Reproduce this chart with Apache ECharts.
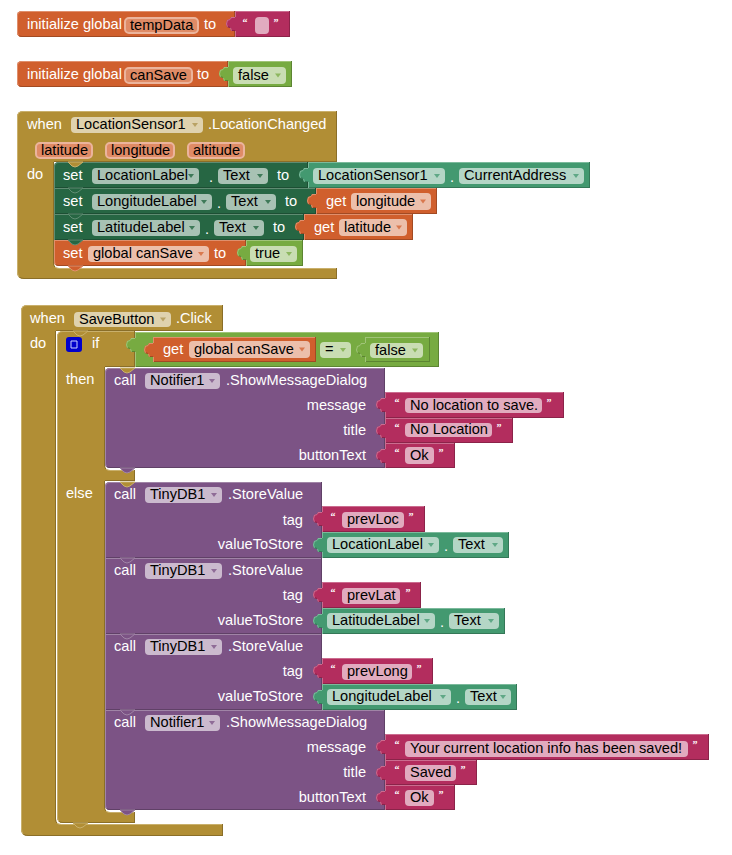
<!DOCTYPE html>
<html>
<head>
<meta charset="utf-8">
<style>
  html, body { margin: 0; padding: 0; background: #fff; }
  #main { width: 732px; height: 855px; }
</style>
</head>
<body>
<div id="main"></div>
<script src="https://cdn.jsdelivr.net/npm/echarts@6/dist/echarts.min.js"></script>
<script>
var tanFrames = [
  [[17,111,6],[337,111],[337,162],[54,162],[54,268,5],[337,268],[337,279],[17,279,7]],
  [[21,305,6],[223,305],[223,331],[56,331],[56,824,5],[223,824],[223,836],[21,836,7]],
  [[57,331,6],[135,331],[135,367],[105,367],[105,470,5],[135,470],[135,481],[105,481],[105,812,5],[135,812],[135,823],[57,823,6]]
];
var orangeStatements = [[17,11,235,37],[17,61,228,87],[54,240,246,266]];
var darkGreenStatements = [[54,162,308,188],[54,188,316,214],[54,214,304,240]];
var purpleStatements = [[105,368,385,468],[105,482,322,558],[105,558,322,634],[105,634,322,710],[105,710,385,810]];

var magentaValues = [[235,11,290,37],[385,392,564,418],[385,418,513,443],[385,443,455,468],[322,506,425,532],
  [322,582,421,608],[322,658,433,684],[385,734,709,760],[385,760,477,785],[385,785,455,810]];
var greenValues = [[228,61,292,87],[246,240,303,266],[135,332,439,367],[365,337,430,362]];
var tealValues = [[308,162,590,188],[322,532,509,558],[322,608,505,634],[322,684,517,710]];
var orangeValues = [[316,188,437,214],[304,214,413,240],[153,337,316,362]];

// notches where one statement hangs over the next: [x, y]
var tanBumps = [[68,162],[73,331],[120,368],[120,482],[73,823]];
var darkGreenBumps = [[68,188],[68,214],[68,240]];
var orangeBumps = [[68,266]];
var purpleBumps = [[120,468],[120,558],[120,634],[120,710],[120,810]];

// chips: [left, top, right, bottom, text]
var nameChips = [[125,18,198,33,'tempData'],[125,68,192,83,'canSave'],[36,143,92,158,'latitude'],[106,143,174,158,'longitude'],[188,143,244,158,'altitude']];
var tanChips = [[71,117,203,133,'LocationSensor1'],[74,312,171,327,'SaveButton']];
var orangeChips = [[88,246,209,262,'global canSave'],[351,193,431,210,'longitude'],[339,219,407,236,'latitude'],[189,341,310,358,'global canSave']];
var darkGreenChips = [[92,168,199,184,'LocationLabel'],[218,168,268,184,'Text'],[92,194,212,210,'LongitudeLabel'],[226,194,276,210,'Text'],[92,220,200,236,'LatitudeLabel'],[214,220,264,236,'Text']];
var tealChips = [[313,168,445,184,'LocationSensor1'],[459,168,584,184,'CurrentAddress'],[327,537,439,553,'LocationLabel'],[453,537,503,553,'Text'],
  [327,613,435,629,'LatitudeLabel'],[449,613,499,629,'Text'],[327,689,451,705,'LongitudeLabel'],[465,689,511,705,'Text']];
var greenChips = [[233,67,286,84,'false'],[250,246,297,262,'true'],[320,342,351,358,'='],[370,343,423,358,'false']];
var purpleChips = [[145,373,220,389,'Notifier1'],[145,487,222,503,'TinyDB1'],[145,563,222,579,'TinyDB1'],[145,639,222,655,'TinyDB1'],[145,715,220,731,'Notifier1']];
var stringChips = [[255,17,269,34,''],[405,398,542,413,'No location to save.'],[405,423,492,437,'No Location'],[405,447,434,464,'Ok'],
  [342,512,404,528,'prevLoc'],[342,588,400,604,'prevLat'],[342,664,412,680,'prevLong'],
  [405,741,688,757,'Your current location info has been saved!'],[405,765,456,781,'Saved'],[405,790,434,806,'Ok']];

// quote marks: [x, y, mark]
var quoteMarks = [[245,22,'\u201c'],[276,22,'\u201d'],[397,402,'\u201c'],[549,402,'\u201d'],[397,427,'\u201c'],[499,427,'\u201d'],[397,452,'\u201c'],[441,452,'\u201d'],
  [333,516,'\u201c'],[411,516,'\u201d'],[333,592,'\u201c'],[408,592,'\u201d'],[333,668,'\u201c'],[419,668,'\u201d'],
  [397,744,'\u201c'],[695,744,'\u201d'],[397,769,'\u201c'],[463,769,'\u201d'],[397,794,'\u201c'],[441,794,'\u201d']];

// white labels: [x, y, text]
var leftLabels = [[27,24,'initialize global'],[204,24,'to'],[27,74,'initialize global'],[197,74,'to'],
  [27,124,'when'],[208,124,'.LocationChanged'],[27,174,'do'],
  [63,175,'set'],[209,177,'.'],[277,175,'to'],[450,177,'.'],
  [63,201,'set'],[217,203,'.'],[285,201,'to'],[326,201,'get'],
  [63,227,'set'],[205,229,'.'],[273,227,'to'],[314,227,'get'],
  [63,253,'set'],[214,253,'to'],
  [30,318,'when'],[176,318,'.Click'],[30,343,'do'],[92,343,'if'],[163,349,'get'],
  [66,379,'then'],[114,380,'call'],[226,380,'.ShowMessageDialog'],
  [66,493,'else'],[114,494,'call'],[228,494,'.StoreValue'],
  [114,570,'call'],[228,570,'.StoreValue'],[114,646,'call'],[228,646,'.StoreValue'],
  [114,722,'call'],[226,722,'.ShowMessageDialog'],
  [444,546,'.'],[440,622,'.'],[456,698,'.']];
var rightLabels = [[366,405,'message'],[366,430,'title'],[366,455,'buttonText'],
  [303,520,'tag'],[303,544,'valueToStore'],[303,595,'tag'],[303,620,'valueToStore'],[303,671,'tag'],[303,696,'valueToStore'],
  [366,747,'message'],[366,772,'title'],[366,797,'buttonText']];
var checkBoxes = [[66,337,82,352]];

var FONT = '14.6px "Liberation Sans", Arial, sans-serif';

var TAN = { fill: '#B18E35', light: '#C9B06C', dark: '#8A6E28' };
var ORANGE = { fill: '#D05F2D', light: '#E08F6C', dark: '#A24A23' };
var DARKGREEN = { fill: '#266643', light: '#5F8C72', dark: '#1D4F34' };
var PURPLE = { fill: '#7C5385', light: '#A084A6', dark: '#604167' };
var MAGENTA = { fill: '#B32D5E', light: '#CB6C8F', dark: '#8B2349' };
var GREEN = { fill: '#77AB41', light: '#A0C478', dark: '#5C8532' };
var TEAL = { fill: '#439970', light: '#7CBA9C', dark: '#347757' };

var allStatements = orangeStatements.concat(darkGreenStatements, purpleStatements);

function hasNeighbour(b, edge) {
  return allStatements.some(function (o) {
    return o !== b && o[0] === b[0] && (edge === 'top' ? o[3] === b[1] : o[1] === b[3]);
  });
}

// expand [x, y, radius] vertices into a plain list of points
function roundVerts(verts) {
  var out = [];
  verts.forEach(function (v, i) {
    var r = v[2];
    if (!r) { out.push([v[0], v[1]]); return; }
    var prev = verts[(i + verts.length - 1) % verts.length];
    var next = verts[(i + 1) % verts.length];
    var d0 = Math.hypot(prev[0] - v[0], prev[1] - v[1]);
    var d1 = Math.hypot(next[0] - v[0], next[1] - v[1]);
    var a = [v[0] + (prev[0] - v[0]) * r / d0, v[1] + (prev[1] - v[1]) * r / d0];
    var b = [v[0] + (next[0] - v[0]) * r / d1, v[1] + (next[1] - v[1]) * r / d1];
    for (var t = 0; t <= 1.001; t += 0.25) {
      var u = 1 - t;
      out.push([u * u * a[0] + 2 * u * t * v[0] + t * t * b[0], u * u * a[1] + 2 * u * t * v[1] + t * t * b[1]]);
    }
  });
  return out;
}

// polygon with a light top/left edge and a dark bottom/right edge
function shape(verts, colors, api) {
  var pts = roundVerts(verts).map(function (p) { return api.coord(p); });
  var children = [{ type: 'polygon', shape: { points: pts }, style: { fill: colors.fill } }];
  pts.forEach(function (p, i) {
    var q = pts[(i + 1) % pts.length];
    var dx = q[0] - p[0], dy = q[1] - p[1], len = Math.hypot(dx, dy) || 1;
    var nx = -dy / len * 0.5, ny = dx / len * 0.5;
    children.push({
      type: 'line',
      shape: { x1: p[0] + nx, y1: p[1] + ny, x2: q[0] + nx, y2: q[1] + ny },
      style: { stroke: dx - dy > 0 ? colors.light : colors.dark, lineWidth: 1 }
    });
  });
  return { type: 'group', children: children };
}

function layer(rows, draw) {
  return {
    type: 'custom',
    coordinateSystem: 'cartesian2d',
    silent: true,
    animation: false,
    clip: false,
    encode: { x: 0, y: 1 },
    data: rows.map(function (r, i) {
      return Array.isArray(r[0]) ? [r[0][0], r[0][1], i] : [r[0], r[1], i];
    }),
    renderItem: function (params, api) { return draw(rows[params.dataIndex], api); }
  };
}

function frameLayer(rows, colors) {
  return layer(rows, function (r, api) { return shape(r, colors, api); });
}

function statementLayer(rows, colors) {
  return layer(rows, function (b, api) {
    var rt = hasNeighbour(b, 'top') ? 0 : 5;
    var rb = hasNeighbour(b, 'bottom') ? 0 : 5;
    return shape([[b[0], b[1], rt], [b[2], b[1]], [b[2], b[3]], [b[0], b[3], rb]], colors, api);
  });
}

// value block with the puzzle tab on its left side
function valueLayer(rows, colors) {
  return layer(rows, function (b, api) {
    var l = b[0], t = b[1];
    return shape([[l, t], [b[2], t], [b[2], b[3]], [l, b[3]],
      [l, t + 20], [l - 4, t + 20], [l - 5, t + 17], [l - 8, t + 16], [l - 9, t + 13], [l - 8, t + 9], [l - 5, t + 8], [l - 4, t + 6], [l, t + 6]], colors, api);
  });
}

function bumpLayer(rows, colors) {
  return layer(rows, function (b, api) {
    var pts = [[b[0], b[1]], [b[0] + 4, b[1] + 4], [b[0] + 7, b[1] + 5], [b[0] + 10, b[1] + 4], [b[0] + 15, b[1]]]
      .map(function (p) { return api.coord(p); });
    return { type: 'polygon', shape: { points: pts }, style: { fill: colors.fill, stroke: colors.light, lineWidth: 1 } };
  });
}

function chipLayer(rows, fill, arrow, stroke) {
  return layer(rows, function (c, api) {
    var p0 = api.coord([c[0], c[1]]), p1 = api.coord([c[2], c[3]]);
    var children = [{
      type: 'rect',
      shape: { x: p0[0], y: p0[1], width: p1[0] - p0[0], height: p1[1] - p0[1], r: 4 },
      style: { fill: fill, stroke: stroke || null, lineWidth: stroke ? 2 : 0 }
    }, {
      type: 'text',
      style: { x: p0[0] + 5, y: (p0[1] + p1[1]) / 2 - 1, text: c[4], font: FONT, fill: '#000', verticalAlign: 'middle', align: 'left' }
    }];
    if (arrow) {
      var ax = p1[0] - 8, ay = (p0[1] + p1[1]) / 2 - 2;
      children.push({ type: 'polygon', shape: { points: [[ax - 3, ay], [ax + 3, ay], [ax, ay + 4]] }, style: { fill: arrow } });
    }
    return { type: 'group', children: children };
  });
}

function labelLayer(rows, align) {
  return layer(rows, function (t, api) {
    var p = api.coord([t[0], t[1]]);
    return { type: 'text', style: { x: p[0], y: p[1], text: t[2], font: FONT, fill: '#fff', align: align, verticalAlign: 'middle' } };
  });
}

var quoteLayer = layer(quoteMarks, function (t, api) {
  var p = api.coord([t[0], t[1]]);
  return { type: 'text', style: { x: p[0], y: p[1], text: t[2], font: 'bold 10px "Liberation Serif", serif', fill: '#fff', align: 'center', verticalAlign: 'middle' } };
});

var checkLayer = layer(checkBoxes, function (c, api) {
  var p0 = api.coord([c[0], c[1]]), p1 = api.coord([c[2], c[3]]);
  return {
    type: 'group',
    children: [
      { type: 'rect', shape: { x: p0[0], y: p0[1], width: p1[0] - p0[0], height: p1[1] - p0[1], r: 3 }, style: { fill: '#0000CC' } },
      { type: 'rect', shape: { x: p0[0] + 5, y: p0[1] + 4, width: 6, height: 7 }, style: { fill: 'none', stroke: '#C8D0FF', lineWidth: 1 } }
    ]
  };
});

var myChart = echarts.init(document.getElementById('main'), null, { renderer: 'svg' });
var option = {
  backgroundColor: '#fff',
  grid: { left: 0, right: 0, top: 0, bottom: 0 },
  xAxis: { type: 'value', min: 0, max: 732, show: false },
  yAxis: { type: 'value', min: 0, max: 855, inverse: true, show: false },
  series: [
    frameLayer(tanFrames, TAN),
    statementLayer(orangeStatements, ORANGE),
    statementLayer(darkGreenStatements, DARKGREEN),
    statementLayer(purpleStatements, PURPLE),
    valueLayer(magentaValues, MAGENTA),
    valueLayer(greenValues, GREEN),
    valueLayer(tealValues, TEAL),
    valueLayer(orangeValues, ORANGE),
    bumpLayer(tanBumps, TAN),
    bumpLayer(darkGreenBumps, DARKGREEN),
    bumpLayer(orangeBumps, ORANGE),
    bumpLayer(purpleBumps, PURPLE),
    chipLayer(nameChips, '#DF8B66', null, '#EBB49C'),
    chipLayer(tanChips, '#DFD2AE', '#B9A264'),
    chipLayer(orangeChips, '#ECBFAB', '#D9784E'),
    chipLayer(darkGreenChips, '#A8C2B4', '#3F7A59'),
    chipLayer(tealChips, '#B4D6C6', '#5FA886'),
    chipLayer(greenChips, '#C9DDB3', '#8DB75F'),
    chipLayer(purpleChips, '#CBBACE', '#8F6C97'),
    chipLayer(stringChips, '#E1ABBF', null),
    quoteLayer,
    labelLayer(leftLabels, 'left'),
    labelLayer(rightLabels, 'right'),
    checkLayer
  ]
};
option && myChart.setOption(option);
</script>
</body>
</html>
